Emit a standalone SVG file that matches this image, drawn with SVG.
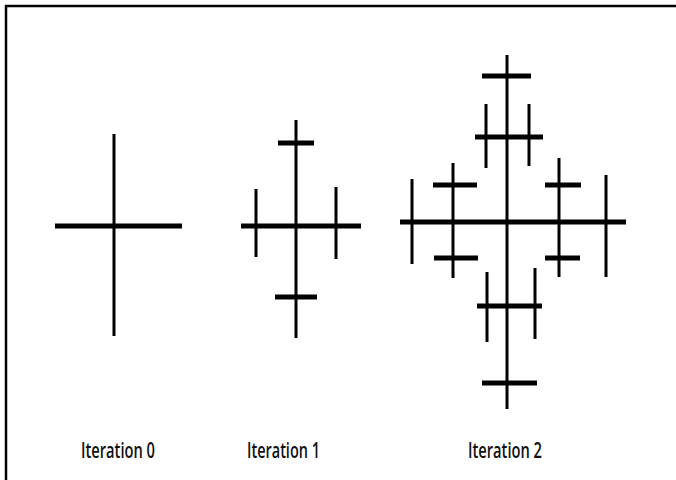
<svg xmlns="http://www.w3.org/2000/svg" width="676" height="480" viewBox="0 0 676 480">
<style>
.h{stroke:#000;stroke-width:5;fill:none}
.v{stroke:#000;stroke-width:3;fill:none}
.lbl{font-family:"Open Sans","Liberation Sans",sans-serif;font-size:22px;font-weight:600;fill:#111}
</style>
<rect width="676" height="480" fill="#fff"/>
<path d="M6,480 V6 H676" stroke="#000" stroke-width="2.5" fill="none"/>
<g id="iteration0">
<line class="v" x1="114" y1="134" x2="114" y2="336"/>
<line class="h" x1="55" y1="226" x2="182" y2="226"/>
</g>
<g id="iteration1">
<line class="v" x1="296" y1="120" x2="296" y2="338"/>
<line class="h" x1="241" y1="226" x2="361" y2="226"/>
<line class="h" x1="278" y1="143" x2="314" y2="143"/>
<line class="h" x1="275" y1="297" x2="317" y2="297"/>
<line class="v" x1="256" y1="189" x2="256" y2="257"/>
<line class="v" x1="336" y1="187" x2="336" y2="259"/>
</g>
<g id="iteration2">
<line class="v" x1="507" y1="55" x2="507" y2="409"/>
<line class="h" x1="400" y1="222" x2="626" y2="222"/>
<line class="h" x1="482" y1="76" x2="531" y2="76"/>
<line class="h" x1="475" y1="137" x2="543" y2="137"/>
<line class="v" x1="486" y1="104" x2="486" y2="168"/>
<line class="v" x1="529" y1="104" x2="529" y2="166"/>
<line class="h" x1="477" y1="306" x2="542" y2="306"/>
<line class="v" x1="487" y1="272" x2="487" y2="342"/>
<line class="v" x1="535" y1="268" x2="535" y2="339"/>
<line class="h" x1="482" y1="383" x2="537" y2="383"/>
<line class="v" x1="412" y1="179" x2="412" y2="264"/>
<line class="v" x1="453" y1="163" x2="453" y2="278"/>
<line class="h" x1="433" y1="185" x2="477" y2="185"/>
<line class="h" x1="434" y1="258" x2="478" y2="258"/>
<line class="v" x1="559" y1="158" x2="559" y2="277"/>
<line class="h" x1="545" y1="185" x2="581" y2="185"/>
<line class="h" x1="545" y1="258" x2="580" y2="258"/>
<line class="v" x1="606" y1="175" x2="606" y2="277"/>
</g>
<g id="labels">
<text class="lbl" x="81" y="458" textLength="74" lengthAdjust="spacingAndGlyphs">Iteration 0</text>
<text class="lbl" x="247" y="458" textLength="73" lengthAdjust="spacingAndGlyphs">Iteration 1</text>
<text class="lbl" x="468" y="458" textLength="74" lengthAdjust="spacingAndGlyphs">Iteration 2</text>
</g>
</svg>
